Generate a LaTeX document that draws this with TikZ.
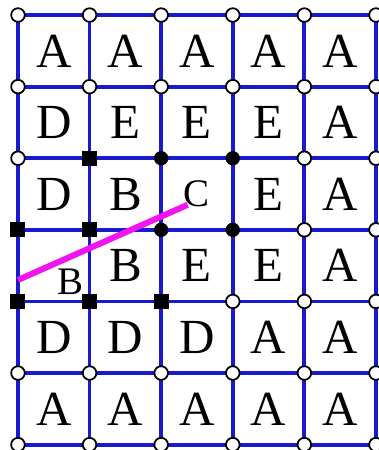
\documentclass[tikz,border=0pt]{standalone}
\usepackage{fontspec}
\setmainfont{Liberation Serif}
\definecolor{gridblue}{RGB}{25,25,205}
\definecolor{pathpink}{RGB}{240,20,240}

\begin{document}
\begin{tikzpicture}
[gridline/.style={draw=gridblue, line width=1.5pt},
 letter/.style={font=\fontsize{19.5}{20}\selectfont, inner sep=0pt},
 smallletter/.style={font=\fontsize{15.5}{16}\selectfont, inner sep=0pt},
 open/.style={shape=circle, draw, fill=white, line width=0.7pt, inner sep=0pt, minimum size=0.19cm},
 dot/.style={shape=circle, fill=black, inner sep=0pt, minimum size=0.2cm},
 box/.style={shape=rectangle, fill=black, inner sep=0pt, minimum size=0.21cm}]
\useasboundingbox (-0.251,-0.075) rectangle (5.042,6.21);

\draw [gridline] (0,0) grid (5,6);

% letters, top row first
\node (a1) at (0.5,5.5) [letter] {A};
\node (a2) at (1.5,5.5) [letter] {A};
\node (a3) at (2.5,5.5) [letter] {A};
\node (a4) at (3.5,5.5) [letter] {A};
\node (a5) at (4.5,5.5) [letter] {A};
\node (b1) at (0.5,4.5) [letter] {D};
\node (b2) at (1.5,4.5) [letter] {E};
\node (b3) at (2.5,4.5) [letter] {E};
\node (b4) at (3.5,4.5) [letter] {E};
\node (b5) at (4.5,4.5) [letter] {A};
\node (c1) at (0.5,3.5) [letter] {D};
\node (c2) at (1.5,3.5) [letter] {B};
\node (c3) at (2.5,3.5) [smallletter] {C};
\node (c4) at (3.5,3.5) [letter] {E};
\node (c5) at (4.5,3.5) [letter] {A};
\node (d1) at (0.74,2.27) [smallletter] {B};
\node (d2) at (1.5,2.5) [letter] {B};
\node (d3) at (2.5,2.5) [letter] {E};
\node (d4) at (3.5,2.5) [letter] {E};
\node (d5) at (4.5,2.5) [letter] {A};
\node (e1) at (0.5,1.5) [letter] {D};
\node (e2) at (1.5,1.5) [letter] {D};
\node (e3) at (2.5,1.5) [letter] {D};
\node (e4) at (3.5,1.5) [letter] {A};
\node (e5) at (4.5,1.5) [letter] {A};
\node (f1) at (0.5,0.5) [letter] {A};
\node (f2) at (1.5,0.5) [letter] {A};
\node (f3) at (2.5,0.5) [letter] {A};
\node (f4) at (3.5,0.5) [letter] {A};
\node (f5) at (4.5,0.5) [letter] {A};

% pink segment
\coordinate (s) at (0,2.30);
\coordinate (t) at (2.37,3.35);
\draw [pathpink, line width=2.4pt] (s) -- (t);

% grid points
\foreach \i in {0,...,5}
  \foreach \j in {0,1,5,6}
    \node (p\i\j) at (\i,\j) [open] {};
\node (p02) at (0,2) [box] {};
\node (p12) at (1,2) [box] {};
\node (p22) at (2,2) [box] {};
\node (p32) at (3,2) [open] {};
\node (p42) at (4,2) [open] {};
\node (p52) at (5,2) [open] {};
\node (p03) at (0,3) [box] {};
\node (p13) at (1,3) [box] {};
\node (p23) at (2,3) [dot] {};
\node (p33) at (3,3) [dot] {};
\node (p43) at (4,3) [open] {};
\node (p53) at (5,3) [open] {};
\node (p04) at (0,4) [open] {};
\node (p14) at (1,4) [box] {};
\node (p24) at (2,4) [dot] {};
\node (p34) at (3,4) [dot] {};
\node (p44) at (4,4) [open] {};
\node (p54) at (5,4) [open] {};
\end{tikzpicture}
\end{document}
